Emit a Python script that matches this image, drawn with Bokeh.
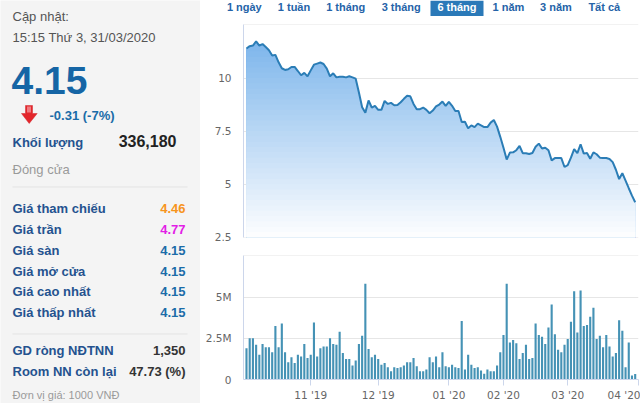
import numpy as np
import pandas as pd
from bokeh.plotting import figure
from bokeh.layouts import row, column
from bokeh.models import Range1d, FixedTicker
from bokeh.core.properties import value
from bokeh.embed import file_html
from bokeh.resources import INLINE

# ---------------- data ----------------
price = [11.39, 11.5, 11.53, 11.72, 11.53, 11.6, 11.46, 11.31, 11.06, 11.09,
         10.74, 10.46, 10.38, 10.41, 10.52, 10.52, 10.33, 10.13, 10.24, 10.08,
         10.36, 10.63, 10.68, 10.73, 10.66, 10.44, 10.08, 10.22, 10.03, 10.06,
         10.06, 10.03, 10.08, 10.03, 9.97, 9.32, 8.62, 8.37, 8.94, 8.61,
         8.69, 8.5, 8.5, 8.92, 8.78, 8.83, 8.72, 8.73, 8.86, 9.02,
         9.16, 9.14, 8.78, 8.53, 8.53, 8.61, 8.5, 8.34, 8.47, 8.66,
         8.75, 8.89, 8.69, 8.88, 8.69, 8.45, 8.45, 7.93, 7.94, 7.63,
         7.77, 7.69, 7.85, 7.77, 7.69, 7.69, 7.9, 8.02, 7.71, 7.23,
         6.72, 6.16, 6.49, 6.5, 6.6, 6.8, 6.46, 6.46, 6.42, 6.47,
         6.76, 6.91, 6.68, 6.72, 6.6, 6.12, 6.23, 6.23, 6.23, 5.81,
         5.9, 6.25, 6.65, 6.46, 6.88, 6.44, 6.47, 6.2, 6.5, 6.41,
         6.25, 6.23, 6.23, 6.19, 6.04, 5.68, 5.24, 5.52, 5.17, 4.81,
         4.46, 4.15]

volume_m = [1.9, 2.5, 2.5, 2.1, 1.5, 2.15, 1.95, 1.95, 1.65, 3.25,
            1.95, 3.4, 1.65, 1.05, 1.35, 1.0, 1.5, 1.4, 2.15, 1.3,
            1.5, 3.45, 1.4, 1.9, 2.0, 2.0, 2.5, 2.15, 2.1, 2.9,
            1.6, 1.25, 1.25, 0.85, 1.15, 2.15, 2.65, 5.8, 1.85, 1.35,
            1.5, 1.25, 0.9, 1.0, 0.75, 0.5, 0.75, 0.7, 0.75, 0.85,
            1.05, 1.05, 1.3, 0.8, 0.5, 0.5, 0.6, 1.35, 1.05, 1.4,
            0.75, 1.65, 0.8, 0.75, 0.9, 0.75, 0.7, 3.55, 0.6, 1.5,
            0.9, 0.7, 0.75, 0.55, 0.35, 0.6, 0.5, 0.5, 0.85, 1.65,
            2.7, 5.8, 2.25, 2.4, 2.2, 1.25, 1.6, 2.1, 1.25, 1.3,
            3.4, 2.7, 2.6, 2.15, 3.15, 4.55, 2.75, 1.8, 1.65, 2.1,
            2.45, 3.5, 5.35, 2.85, 5.4, 3.25, 3.3, 3.8, 4.35, 2.45,
            2.65, 1.95, 2.7, 2.0, 1.4, 1.6, 3.6, 2.95, 0.75, 2.25,
            0.25, 0.336]

holidays = ["2020-01-01", "2020-01-23", "2020-01-24", "2020-01-27",
            "2020-01-28", "2020-01-29"]
dates = pd.bdate_range("2019-10-04", "2020-03-31", freq="C", holidays=holidays)
n = len(dates)
idx = np.arange(n)
volume = np.array(volume_m) * 1e6

price_ticks = [2.5, 5, 7.5, 10, 12.5]
price_tick_labels = ["2.5", "5", "7.5", "10", ""]
vol_ticks = [0, 2.5e6, 5e6, 7.5e6]
vol_tick_labels = ["0", "2.5M", "5M", ""]

tab_labels = ["1 ngày", "1 tuần", "1 tháng", "3 tháng", "6 tháng", "1 năm", "3 năm", "Tất cả"]
selected_tab = "6 tháng"

info_labels = ["Giá tham chiếu", "Giá trần", "Giá sàn", "Giá mở cửa", "Giá cao nhất", "Giá thấp nhất"]
info_values = ["4.46", "4.77", "4.15", "4.15", "4.15", "4.15"]
info_colors = ["#f7941d", "#e21ee6", "#1b6ca8", "#1b6ca8", "#1b6ca8", "#1b6ca8"]

# month ticks (first trading day of each month)
month_idx = [i for i in range(1, n) if dates[i].month != dates[i - 1].month]
month_dates = [dates[i] for i in month_idx]
month_idx.append(n)
month_dates.append(dates[-1] + pd.offsets.MonthBegin(1))
month_labels = {int(i): f"{d.month:02d} '{d.year % 100:02d}" for i, d in zip(month_idx, month_dates)}

TICK_FONT = "DejaVu Sans"
UI_FONT = "Liberation Sans"
AXIS_COL = "#ccd6eb"
GRID_COL = "#e6e6e6"
LABEL_COL = "#666666"
BORDER_L, BORDER_R = 43, 2


def txt(fig, x, y, s, size, color, style="normal", align="left", font=UI_FONT):
    fig.text(x=[x], y=[y], text=[s], text_font=value(font), text_font_size=size,
             text_font_style=style, text_color=color, text_align=align,
             text_baseline="middle")


# ---------------- left info panel ----------------
lp = figure(width=200, height=403, x_range=Range1d(0, 200), y_range=Range1d(403, 0),
            toolbar_location=None, output_backend="svg", min_border=0,
            x_axis_location=None, y_axis_location=None,
            background_fill_color="#f4f4f4", border_fill_color="#f4f4f4",
            outline_line_color=None)
lp.grid.visible = False

LBL = "#24528f"
VAL = "#1b6ca8"
txt(lp, 12, 16, "Cập nhật:", "13px", "#555555")
txt(lp, 12, 37, "15:15 Thứ 3, 31/03/2020", "13px", "#555555")
txt(lp, 11, 80, "4.15", "39px", "#1565a5", "bold")
lp.patch(x=[25, 32, 32, 36.7, 28.7, 21, 25], y=[105, 105, 113, 113, 123, 113, 113],
         fill_color="#e3262b", line_color="#d0242a", line_width=0.5)
lp.quad(left=[26.5], right=[30.5], top=[106], bottom=[112], fill_color="#f07a80",
        line_color=None)
txt(lp, 49, 115, "-0.31 (-7%)", "13px", VAL, "bold")
txt(lp, 12, 141.5, "Khối lượng", "13px", LBL, "bold")
txt(lp, 176, 140, "336,180", "16px", "#222222", "bold", "right")
txt(lp, 12, 169, "Đóng cửa", "13px", "#9a9a9a")
lp.segment(x0=[12, 12], y0=[186.5, 333.5], x1=[187, 187], y1=[186.5, 333.5],
           line_color="#e3e3e3", line_width=1)
for k, (lab, val, col) in enumerate(zip(info_labels, info_values, info_colors)):
    yy = 208 + k * 20.85
    txt(lp, 12, yy, lab, "13px", LBL, "bold")
    txt(lp, 185, yy, val, "13px", col, "bold", "right")
txt(lp, 12, 350, "GD ròng NĐTNN", "13px", LBL, "bold")
txt(lp, 185, 350, "1,350", "13px", "#333333", "bold", "right")
txt(lp, 12, 370.5, "Room NN còn lại", "13px", LBL, "bold")
txt(lp, 185, 370.5, "47.73 (%)", "13px", "#333333", "bold", "right")
txt(lp, 12, 394, "Đơn vị giá: 1000 VNĐ", "11px", "#9a9a9a")

# ---------------- tabs row ----------------
tp = figure(width=440, height=18, x_range=Range1d(0, 440), y_range=Range1d(18, 0),
            toolbar_location=None, output_backend="svg", min_border=0,
            x_axis_location=None, y_axis_location=None,
            background_fill_color="white", border_fill_color="white",
            outline_line_color=None)
tp.grid.visible = False
tab_x = [43.8, 93.5, 145.2, 200.7, 256.5, 308, 355.5, 403.8]
for lab, cx in zip(tab_labels, tab_x):
    if lab == selected_tab:
        tp.quad(left=[cx - 26.5], right=[cx + 26.5], top=[0], bottom=[15.5],
                fill_color="#2a79b8", line_color=None)
        txt(tp, cx, 6.8, lab, "11px", "white", "bold", "center")
    else:
        txt(tp, cx, 6.8, lab, "11px", "#2563a8", "bold", "center")

# ---------------- price chart ----------------
xr = Range1d(-0.93, 122.03)
pp = figure(width=440, height=227, x_range=xr, y_range=Range1d(2.49, 12.52),
            toolbar_location=None, output_backend="svg", x_axis_location=None,
            min_border_left=BORDER_L, min_border_right=BORDER_R,
            min_border_top=6, min_border_bottom=8,
            background_fill_color="white", border_fill_color="white",
            outline_line_color=None)

top_rgb = np.array([116, 176, 234])
white = np.array([255, 255, 255])
levels = np.arange(12.5, 2.5, -0.25)
price_arr = np.array(price)
for hi in levels:
    t = (hi - 2.5) / 10.0
    c = (white * (1 - t) + top_rgb * t).round().astype(int)
    col = "#%02x%02x%02x" % tuple(c)
    pp.varea(x=idx, y1=2.5, y2=np.minimum(price_arr, hi), fill_color=col)
pp.line(idx, price, line_color="#2b7db6", line_width=2)

pp.yaxis.ticker = FixedTicker(ticks=price_ticks)
pp.yaxis.major_label_overrides = dict(zip(price_ticks, price_tick_labels))
pp.yaxis.axis_line_color = AXIS_COL
pp.yaxis.major_tick_line_color = None
pp.yaxis.minor_tick_line_color = None
pp.yaxis.major_label_text_color = LABEL_COL
pp.yaxis.major_label_text_font = TICK_FONT
pp.yaxis.major_label_text_font_size = "10.5px"
pp.yaxis.major_label_standoff = 6
pp.xgrid.visible = False
pp.ygrid.grid_line_color = GRID_COL

# ---------------- volume chart ----------------
vp = figure(width=440, height=158, x_range=xr, y_range=Range1d(0, 7.52e6),
            toolbar_location=None, output_backend="svg",
            min_border_left=BORDER_L, min_border_right=BORDER_R,
            min_border_top=10, min_border_bottom=24,
            background_fill_color="white", border_fill_color="white",
            outline_line_color=None)
vp.vbar(x=idx, top=volume, width=0.66, fill_color="#4592b5", line_color=None)

vp.yaxis.ticker = FixedTicker(ticks=vol_ticks)
vp.yaxis.major_label_overrides = dict(zip(vol_ticks, vol_tick_labels))
vp.yaxis.axis_line_color = AXIS_COL
vp.yaxis.major_tick_line_color = None
vp.yaxis.minor_tick_line_color = None
vp.yaxis.major_label_text_color = LABEL_COL
vp.yaxis.major_label_text_font = TICK_FONT
vp.yaxis.major_label_text_font_size = "10.5px"
vp.yaxis.major_label_standoff = 6

vp.xaxis.ticker = FixedTicker(ticks=list(month_labels.keys()))
vp.xaxis.major_label_overrides = month_labels
vp.xaxis.axis_line_color = AXIS_COL
vp.xaxis.major_tick_line_color = AXIS_COL
vp.xaxis.major_tick_in = 0
vp.xaxis.major_tick_out = 6
vp.xaxis.minor_tick_line_color = None
vp.xaxis.major_label_text_color = LABEL_COL
vp.xaxis.major_label_text_font = TICK_FONT
vp.xaxis.major_label_text_font_size = "10.5px"
vp.xaxis.major_label_standoff = 3
vp.xgrid.visible = False
vp.ygrid.grid_line_color = GRID_COL

charts = column(pp, vp, spacing=0)
layout = row(lp, column(tp, charts, spacing=0), spacing=0)

open("out.html", "w").write(file_html(layout, INLINE))
